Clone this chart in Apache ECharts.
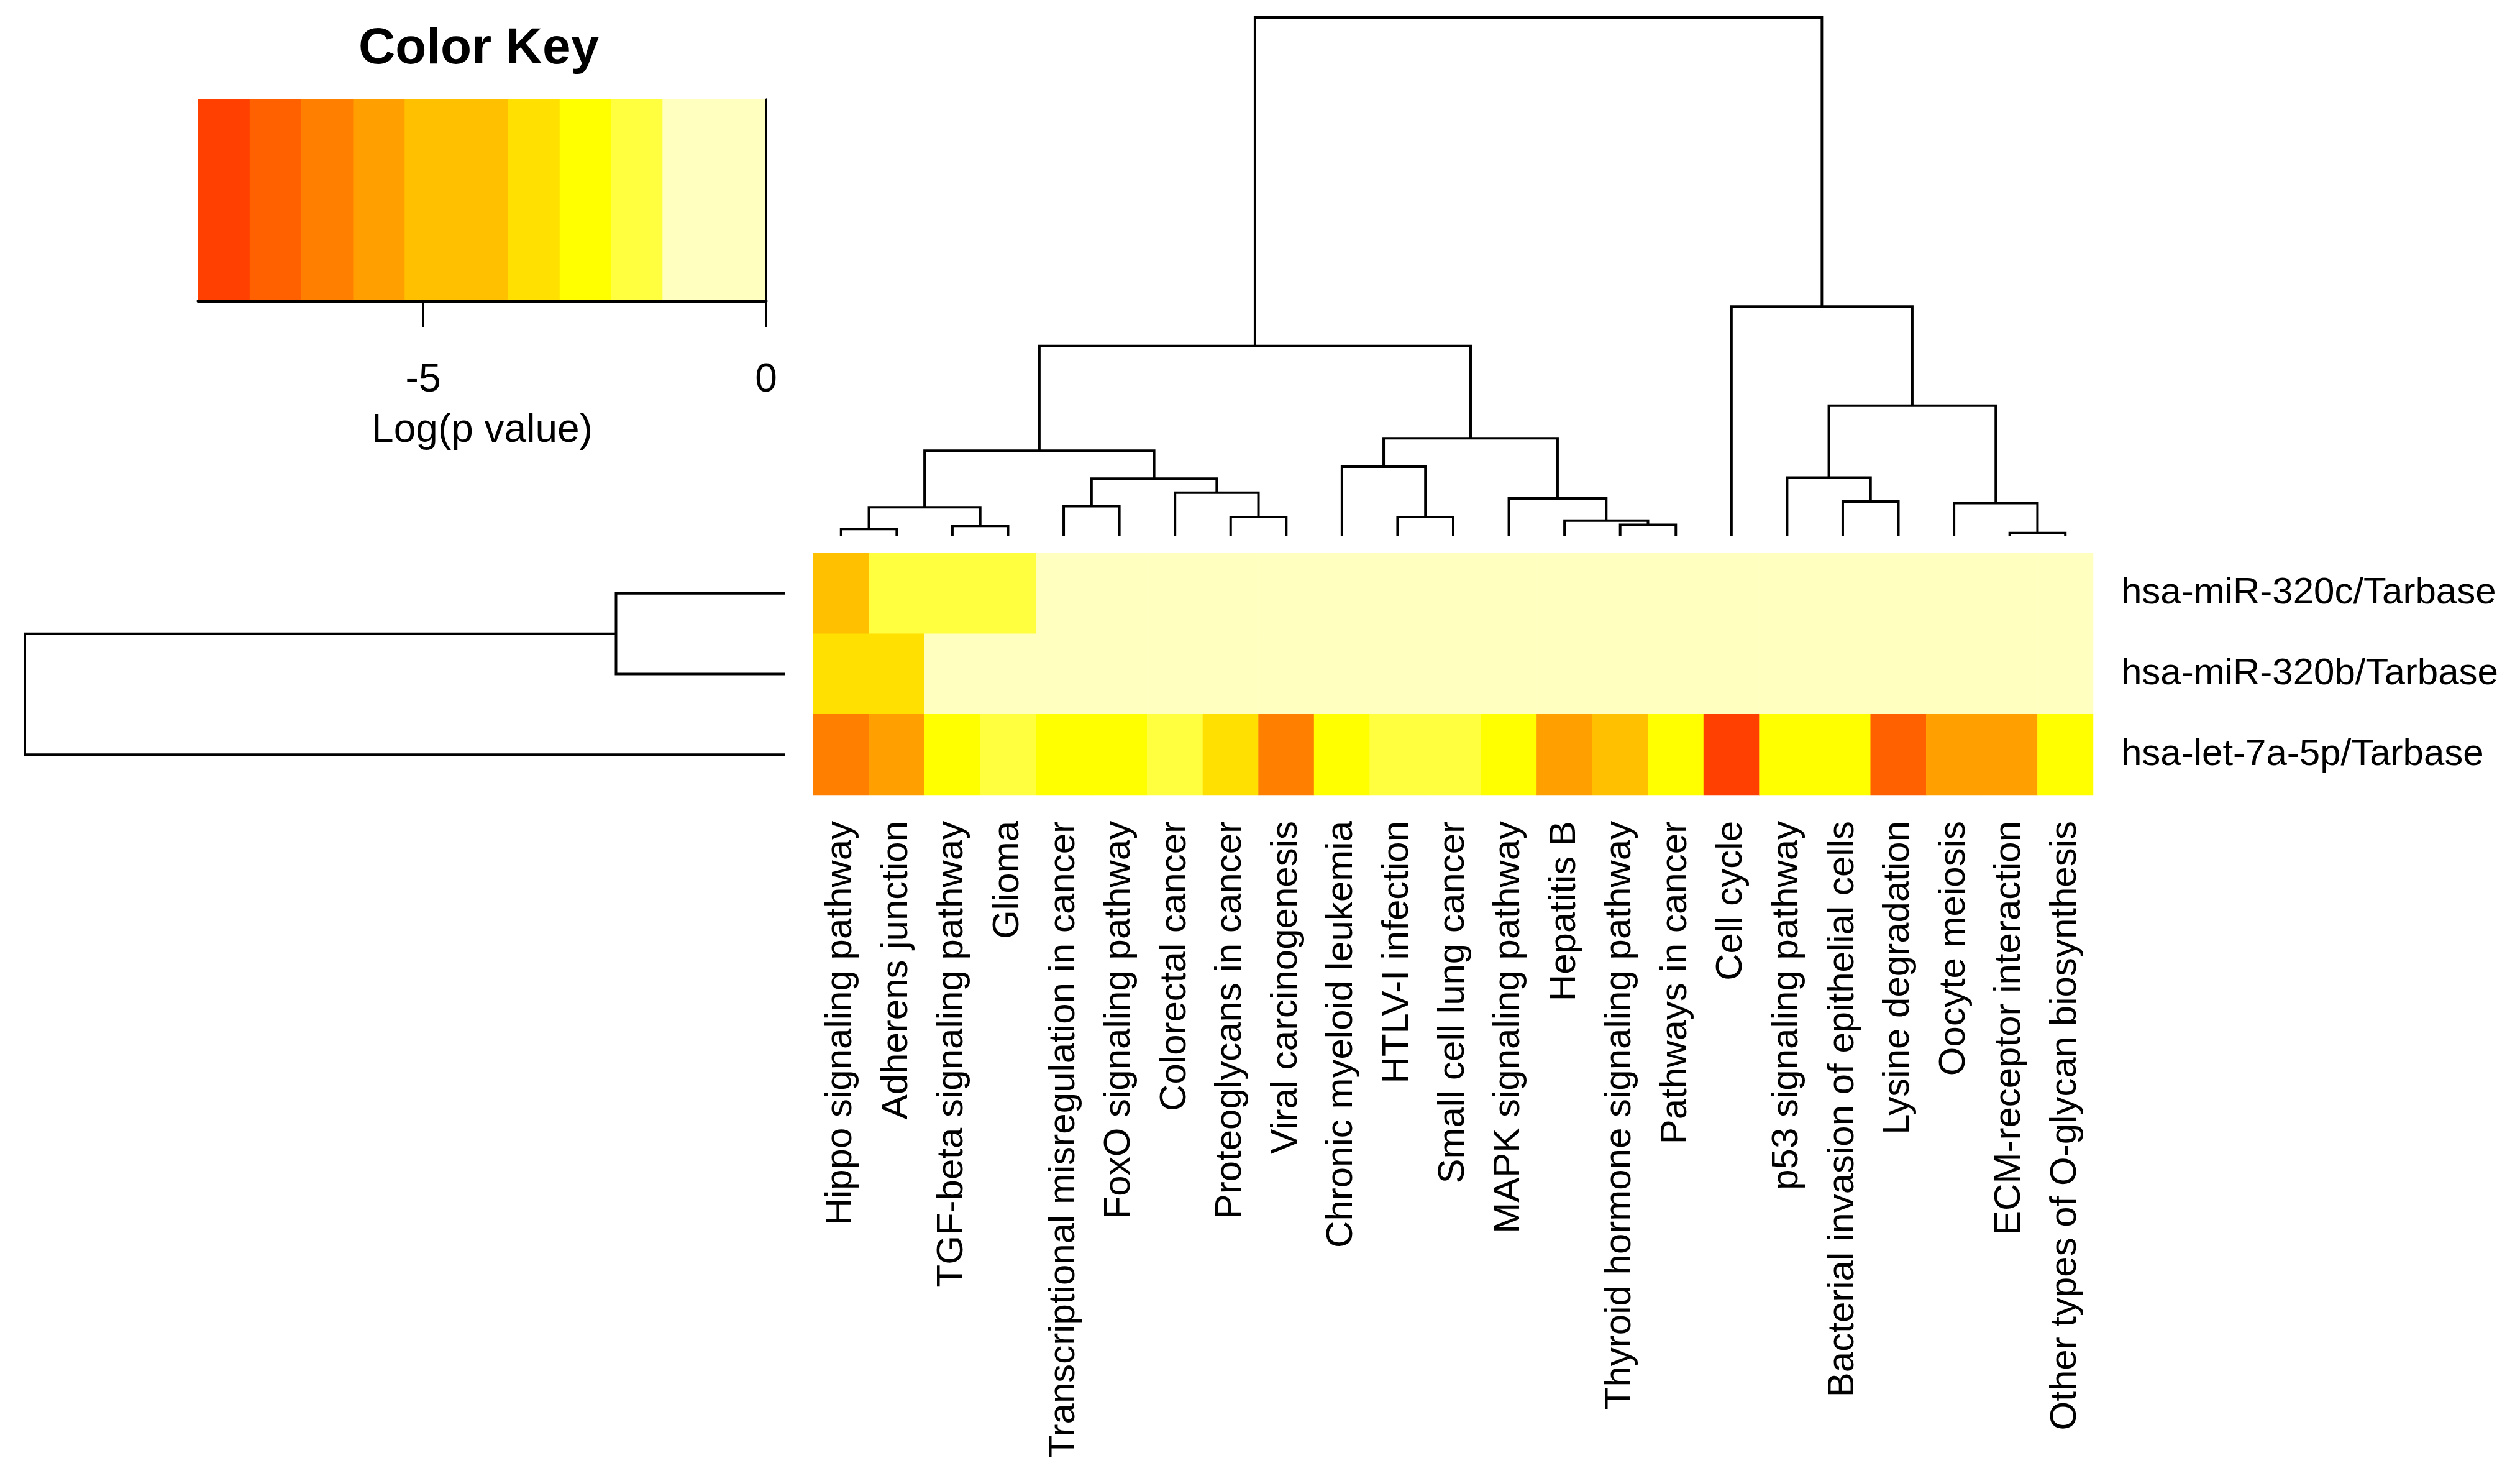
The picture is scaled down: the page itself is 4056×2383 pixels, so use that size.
<!DOCTYPE html>
<html><head><meta charset="utf-8">
<script src="https://cdn.jsdelivr.net/npm/echarts@6/dist/echarts.min.js"></script>
<style>html,body{margin:0;padding:0;background:#fff}#c{width:4056px;height:2383px}</style>
</head><body><div id="c"></div>
<script>
// ---------- data ----------
const pathways = [
  'Hippo signaling pathway','Adherens junction','TGF-beta signaling pathway','Glioma',
  'Transcriptional misregulation in cancer','FoxO signaling pathway','Colorectal cancer',
  'Proteoglycans in cancer','Viral carcinogenesis','Chronic myeloid leukemia','HTLV-I infection',
  'Small cell lung cancer','MAPK signaling pathway','Hepatitis B','Thyroid hormone signaling pathway',
  'Pathways in cancer','Cell cycle','p53 signaling pathway','Bacterial invasion of epithelial cells',
  'Lysine degradation','Oocyte meiosis','ECM-receptor interaction','Other types of O-glycan biosynthesis'
];
const mirnas = ['hsa-miR-320c/Tarbase','hsa-miR-320b/Tarbase','hsa-let-7a-5p/Tarbase'];
const valsMiR320c = [-4.6,-1.9,-1.9,-1.9,0,0,0,0,0,0,0,0,0,0,0,0,0,0,0,0,0,0,0];
const valsMiR320b = [-3.4,-3.4,0,0,0,0,0,0,0,0,0,0,0,0,0,0,0,0,0,0,0,0,0];
const valsLet7a   = [-6.4,-5.6,-2.6,-1.9,-2.6,-2.6,-1.9,-3.4,-6.4,-2.6,-1.9,-1.9,-2.6,-5.6,-4.6,-2.6,-7.9,-2.6,-2.6,-7.1,-5.6,-5.6,-2.6];

// colour key (breaks of the log(p) scale and their colours)
const keyBreaks = [-8.28,-7.53,-6.78,-6.02,-5.27,-4.52,-3.76,-3.01,-2.26,-1.51,-0.75,0];
const keyColors = ['#FF4000','#FF6000','#FF8000','#FFA000','#FFC000','#FFC000','#FFE000','#FFFF00','#FFFF40','#FFFFC0','#FFFFC0'];
const keyTicks = [-5, 0];

// column dendrogram (hclust-style merge table: negative = leaf, positive = earlier merge)
const colMergeA = [-22,-1,-3,-15,-14,-8,-11,2,-5,-21,-19,-13,-7,9,-18,-10,8,16,15,17,-17,20];
const colMergeB = [-23,-2,-4,-16,4,-9,-12,3,-6,1,-20,5,6,13,11,7,14,12,10,18,19,21];
const colHeights = [0.5,1.3,1.9,2.1,2.9,3.6,3.6,5.5,5.7,6.3,6.6,7.2,8.3,11.0,11.2,13.3,16.4,18.8,25.1,36.6,44.2,100];
// row dendrogram
const rowMergeA = [-1,-3];
const rowMergeB = [-2,1];
const rowHeights = [22.2,100];

// ---------- helpers ----------
function dendroSegments(mA, mB, hts) {
  const nodes = [];
  const pos = id => id < 0 ? {x: -id - 0.5, h: 0} : nodes[id - 1];
  const segs = [];
  for (let i = 0; i < hts.length; i++) {
    const a = pos(mA[i]), b = pos(mB[i]);
    segs.push([a.x, a.h, b.x, b.h, hts[i]]);
    nodes.push({x: (a.x + b.x) / 2, h: hts[i]});
  }
  return segs;
}
function dendroRender(horizontal) {
  return function (params, api) {
    const xl = api.value(0), hl = api.value(1), xr = api.value(2), hr = api.value(3), h = api.value(4);
    const P = (p, hh) => horizontal ? api.coord([hh, p]) : api.coord([p, hh]);
    return {
      type: 'polyline',
      shape: {points: [P(xl, hl), P(xl, h), P(xr, h), P(xr, hr)]},
      style: {stroke: '#000', lineWidth: 4, fill: null}
    };
  };
}

const heatData = [];
[valsMiR320c, valsMiR320b, valsLet7a].forEach((row, r) => {
  row.forEach((v, c) => heatData.push([c, r, v]));
});
const pieces = keyColors.map((col, i) => (i === keyColors.length - 1)
  ? {gte: keyBreaks[i], lte: keyBreaks[i + 1] + 1, color: col}
  : {gte: keyBreaks[i], lt: keyBreaks[i + 1], color: col});
const keyData = keyColors.map((c, i) => [keyBreaks[i], keyBreaks[i + 1], i]);

const FONT = "'Liberation Sans', Arial, Helvetica, sans-serif";
const chart = echarts.init(document.getElementById('c'), null, {renderer: 'canvas'});
const hideAxis = {axisLine: {show: false}, axisTick: {show: false}, axisLabel: {show: false}, splitLine: {show: false}};

chart.setOption({
  animation: false,
  backgroundColor: '#fff',
  textStyle: {fontFamily: FONT, color: '#000'},
  grid: [
    {left: 1309, right: 687, top: 890, height: 389},   // heatmap
    {left: 1309, right: 687, top: 28, height: 834},    // column dendrogram
    {left: 40, right: 2793, top: 890, height: 389},    // row dendrogram
    {left: 319, right: 2823, top: 160, height: 324}    // colour key
  ],
  xAxis: [
    {type: 'category', gridIndex: 0, data: pathways, position: 'bottom',
     axisLine: {show: false}, axisTick: {show: false}, splitLine: {show: false},
     axisLabel: {rotate: 90, interval: 0, margin: 42, fontSize: 60, color: '#000', fontFamily: FONT}},
    Object.assign({type: 'value', gridIndex: 1, min: 0, max: pathways.length}, hideAxis),
    Object.assign({type: 'value', gridIndex: 2, min: 0, max: 100, inverse: true}, hideAxis),
    {type: 'value', gridIndex: 3, min: keyBreaks[0], max: 0, position: 'bottom', z: 10,
     axisLine: {show: true, lineStyle: {color: '#000', width: 5}},
     axisTick: {show: true, customValues: keyTicks, length: 42, lineStyle: {color: '#000', width: 4}},
     axisLabel: {show: true, customValues: keyTicks, margin: 96, fontSize: 64, color: '#000', fontFamily: FONT},
     splitLine: {show: false},
     name: 'Log(p value)', nameLocation: 'middle', nameGap: 177,
     nameTextStyle: {fontSize: 64, color: '#000', fontFamily: FONT}},
    {type: 'value', gridIndex: 3, min: keyBreaks[0], max: 0, position: 'top', z: 10,
     axisLine: {show: true, lineStyle: {color: '#000', width: 3}},
     axisTick: {show: false}, axisLabel: {show: false}, splitLine: {show: false}}
  ],
  yAxis: [
    {type: 'category', gridIndex: 0, data: mirnas, inverse: true, position: 'right',
     axisLine: {show: false}, axisTick: {show: false}, splitLine: {show: false},
     axisLabel: {margin: 45, fontSize: 60, color: '#000', align: 'left', fontFamily: FONT}},
    Object.assign({type: 'value', gridIndex: 1, min: 0, max: 100}, hideAxis),
    Object.assign({type: 'value', gridIndex: 2, min: 0, max: mirnas.length, inverse: true}, hideAxis),
    {type: 'value', gridIndex: 3, min: 0, max: 1, position: 'left', z: 10,
     axisLine: {show: true, lineStyle: {color: '#000', width: 3}},
     axisTick: {show: false}, axisLabel: {show: false}, splitLine: {show: false}},
    {type: 'value', gridIndex: 3, min: 0, max: 1, position: 'right', z: 10,
     axisLine: {show: true, lineStyle: {color: '#000', width: 3}},
     axisTick: {show: false}, axisLabel: {show: false}, splitLine: {show: false}}
  ],
  visualMap: {type: 'piecewise', show: false, seriesIndex: 0, dimension: 2, pieces: pieces},
  graphic: [{
    type: 'text', left: 777 - 200, top: 83 - 45,
    style: {text: 'Color Key', x: 0, y: 0, width: 400, align: 'center', fontSize: 82, fontWeight: 'bold', fontFamily: FONT, fill: '#000'}
  }],
  series: [
    {type: 'heatmap', xAxisIndex: 0, yAxisIndex: 0, data: heatData,
     itemStyle: {borderWidth: 0}, emphasis: {disabled: true}, progressive: 0},
    {type: 'custom', xAxisIndex: 1, yAxisIndex: 1, data: dendroSegments(colMergeA, colMergeB, colHeights),
     renderItem: dendroRender(false), clip: false, silent: true},
    {type: 'custom', xAxisIndex: 2, yAxisIndex: 2, data: dendroSegments(rowMergeA, rowMergeB, rowHeights),
     renderItem: dendroRender(true), clip: false, silent: true},
    {type: 'custom', xAxisIndex: 3, yAxisIndex: 3, data: keyData, silent: true,
     renderItem: function (params, api) {
       const p0 = api.coord([api.value(0), 1]);
       const p1 = api.coord([api.value(1), 0]);
       return {type: 'rect', shape: {x: p0[0], y: p0[1], width: p1[0] - p0[0] + 1, height: p1[1] - p0[1]},
               style: {fill: keyColors[api.value(2)]}};
     }}
  ]
});
</script></body></html>
